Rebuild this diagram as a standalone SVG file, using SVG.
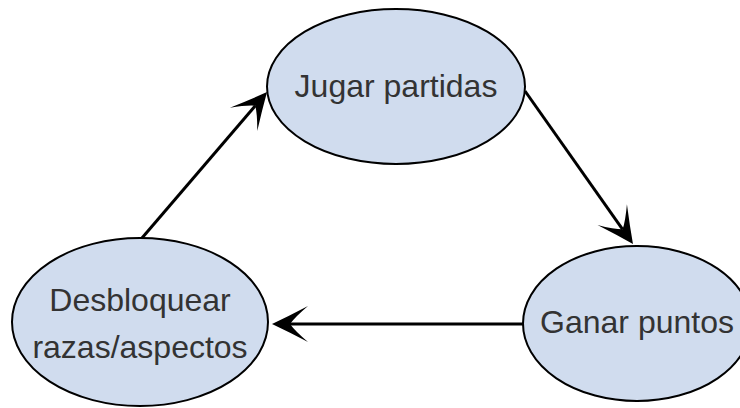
<svg xmlns="http://www.w3.org/2000/svg" width="740" height="408" viewBox="0 0 740 408">
<style>
.node ellipse{fill:#d0dcee;stroke:#000;stroke-width:2}
.node text{font-family:"Liberation Sans",Arial,sans-serif;font-size:32px;fill:#333;text-anchor:middle}
.edge{stroke:#000;stroke-width:3;fill:none;marker-end:url(#arr)}
</style>
<defs>
<marker id="arr" markerUnits="userSpaceOnUse" viewBox="0 0 38 38" markerWidth="38" markerHeight="38" refX="19" refY="19" orient="auto">
<path d="M37,19 Q20,11 1,1 Q14,12 19,19 Q14,26 1,37 Q20,27 37,19 Z" fill="#000"/>
</marker>
</defs>
<rect width="740" height="408" fill="#fff"/>
<g id="connectors">
<line class="edge" x1="142" y1="238" x2="255.3" y2="105.7"/>
<line class="edge" x1="525" y1="91" x2="622.6" y2="229.3"/>
<line class="edge" x1="523" y1="324" x2="290" y2="324"/>
</g>
<g id="jugar" class="node">
<ellipse cx="396" cy="86.5" rx="129" ry="77.5"/>
<text x="396" y="97">Jugar partidas</text>
</g>
<g id="ganar" class="node">
<ellipse cx="637" cy="323.5" rx="114" ry="77.5"/>
<text x="637" y="333">Ganar puntos</text>
</g>
<g id="desbloquear" class="node">
<ellipse cx="140" cy="322" rx="128" ry="84"/>
<text x="140" y="311">Desbloquear</text>
<text x="140" y="358">razas/aspectos</text>
</g>
</svg>
